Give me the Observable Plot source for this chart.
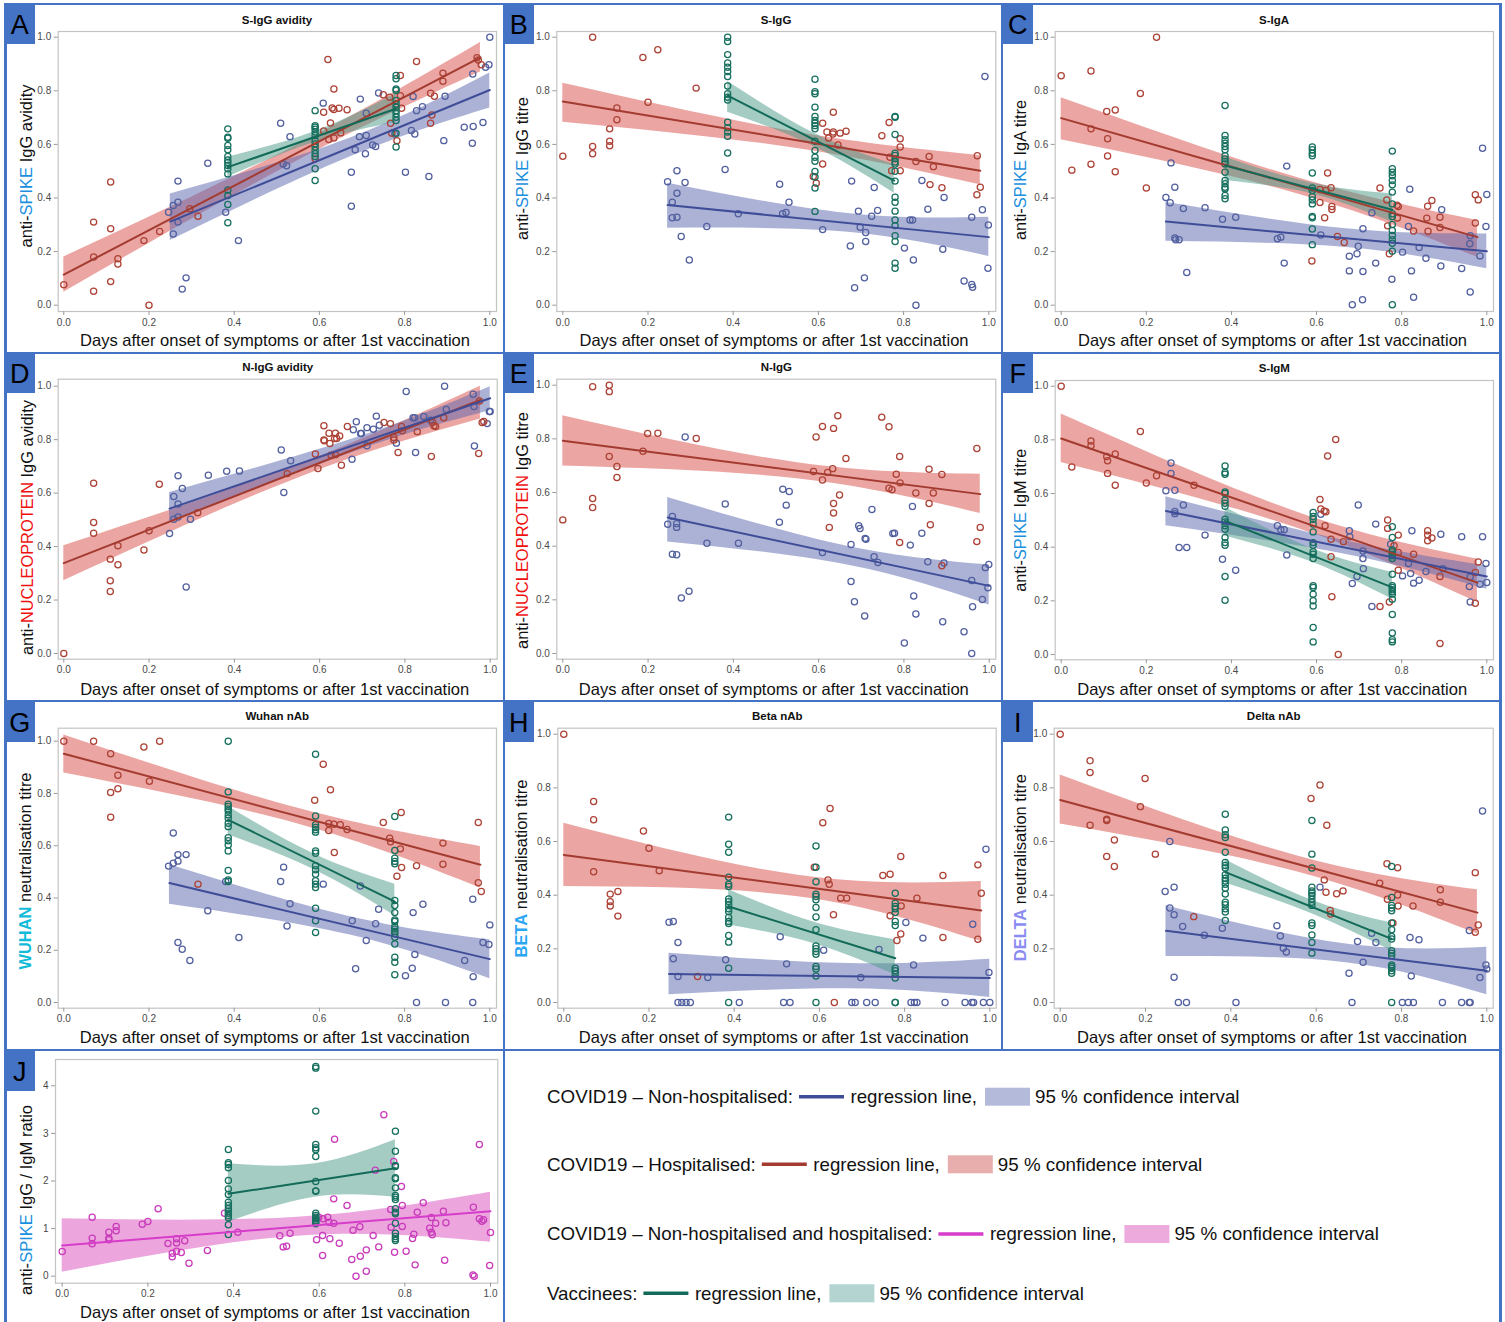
<!DOCTYPE html>
<html><head><meta charset="utf-8">
<script src="https://cdn.jsdelivr.net/npm/d3@7"></script>
<script src="https://cdn.jsdelivr.net/npm/@observablehq/plot@0.6"></script>
<style>
html,body{margin:0;padding:0;background:#fff;}
#root{position:relative;width:1505px;height:1322px;overflow:hidden;background:#fff;font-family:"Liberation Sans",Arial,sans-serif;}
.cell{position:absolute;}
.bar{position:absolute;background:#4472C4;}
.tag{position:absolute;background:#4472C4;color:#000;font:27px "Liberation Sans",Arial,sans-serif;text-align:center;box-sizing:border-box;padding-top:6px;line-height:30px;}
</style></head><body><div id="root"></div>
<script>
// ---------------- DATA ----------------
// groups: N = non-hospitalised, H = hospitalised, V = vaccinees, C = all COVID19
const panelIds = ["A","B","C","D","E","F","G","H","I","J"];
const titles = ["S-IgG avidity","S-IgG","S-IgA","N-IgG avidity","N-IgG","S-IgM","Wuhan nAb","Beta nAb","Delta nAb",""];
const yLabels = [
  [["anti-","k"],["SPIKE","spike"],[" IgG avidity","k"]],
  [["anti-","k"],["SPIKE","spike"],[" IgG titre","k"]],
  [["anti-","k"],["SPIKE","spike"],[" IgA titre","k"]],
  [["anti-","k"],["NUCLEOPROTEIN","np"],[" IgG avidity","k"]],
  [["anti-","k"],["NUCLEOPROTEIN","np"],[" IgG titre","k"]],
  [["anti-","k"],["SPIKE","spike"],[" IgM titre","k"]],
  [["WUHAN","wuhan"],[" neutralisation titre","k"]],
  [["BETA","beta"],[" neutralisation titre","k"]],
  [["DELTA","delta"],[" neutralisation titre","k"]],
  [["anti-","k"],["SPIKE","spike"],[" IgG / IgM ratio","k"]]
];
const xLabel = "Days after onset of symptoms or after 1st vaccination";
const xTicks = [0,0.2,0.4,0.6,0.8,1.0];
const yTicks01 = [0,0.2,0.4,0.6,0.8,1.0];
const yTicksJ = [0,1,2,3,4];

// ---- A: S-IgG avidity
const A_H = [[0,0.076],[0.07,0.18],[0.07,0.31],[0.07,0.052],[0.11,0.46],[0.11,0.285],[0.11,0.088],[0.127,0.173],[0.127,0.154],[0.188,0.241],[0.2,0],[0.225,0.275],[0.296,0.36],[0.315,0.332],[0.59,0.546],[0.61,0.72],[0.61,0.65],[0.62,0.917],[0.626,0.68],[0.63,0.736],[0.634,0.807],[0.634,0.73],[0.634,0.624],[0.622,0.618],[0.646,0.735],[0.65,0.643],[0.665,0.729],[0.75,0.785],[0.765,0.776],[0.767,0.679],[0.77,0.642],[0.782,0.614],[0.79,0.857],[0.79,0.782],[0.793,0.735],[0.828,0.909],[0.861,0.791],[0.864,0.71],[0.861,0.679],[0.87,0.78],[0.89,0.866],[0.89,0.836],[0.97,0.923],[0.973,0.915],[0.98,0.897]];
const A_N = [[0.246,0.347],[0.257,0.372],[0.268,0.384],[0.268,0.463],[0.268,0.31],[0.257,0.266],[0.278,0.06],[0.287,0.102],[0.338,0.53],[0.38,0.347],[0.41,0.241],[0.509,0.679],[0.515,0.527],[0.523,0.52],[0.531,0.629],[0.609,0.754],[0.675,0.369],[0.675,0.496],[0.684,0.58],[0.694,0.629],[0.696,0.769],[0.708,0.565],[0.71,0.633],[0.71,0.716],[0.725,0.598],[0.732,0.592],[0.739,0.792],[0.777,0.639],[0.802,0.496],[0.816,0.652],[0.82,0.779],[0.824,0.639],[0.828,0.726],[0.842,0.741],[0.857,0.48],[0.892,0.614],[0.895,0.78],[0.94,0.664],[0.961,0.667],[0.959,0.604],[0.96,0.863],[0.984,0.682],[0.99,0.888],[0.998,0.897],[1,1]];
const A_V = [[0.385,[0.658,0.627,0.623,0.596,0.58,0.555,0.542,0.532,0.521,0.509,0.49,0.43,0.409,0.376,0.308]],[0.59,[0.726,0.67,0.664,0.657,0.646,0.633,0.614,0.602,0.59,0.577,0.565,0.555,0.509,0.465]],[0.78,[0.857,0.845,0.807,0.801,0.764,0.751,0.739,0.726,0.714,0.701,0.689,0.642,0.59]]];
const A_fit = [["H",0,0.114,0.978,0.925],["N",0.25,0.312,1,0.803],["V",0.385,0.515,0.78,0.733]];
const A_ci = [["H",[[0,0.048,0.18],[0.55,0.54,0.6],[0.978,0.87,0.98]]],["N",[[0.25,0.241,0.415],[0.67,0.552,0.622],[1,0.736,0.866]]],["V",[[0.385,0.478,0.552],[0.59,0.608,0.648],[0.78,0.683,0.789]]]];

// ---- B: S-IgG
const B_H = [[0,0.556],[0.07,1],[0.07,0.592],[0.07,0.565],[0.11,0.658],[0.11,0.612],[0.11,0.595],[0.127,0.736],[0.127,0.692],[0.188,0.924],[0.2,0.757],[0.223,0.953],[0.313,0.81],[0.588,0.48],[0.595,0.455],[0.61,0.679],[0.61,0.527],[0.62,0.646],[0.624,0.624],[0.634,0.639],[0.635,0.72],[0.635,0.646],[0.646,0.598],[0.651,0.642],[0.665,0.649],[0.749,0.632],[0.766,0.682],[0.768,0.552],[0.772,0.502],[0.792,0.621],[0.792,0.59],[0.792,0.502],[0.829,0.536],[0.86,0.555],[0.862,0.45],[0.87,0.517],[0.89,0.438],[0.972,0.412],[0.973,0.558],[0.98,0.44]];
const B_N = [[0.246,0.461],[0.257,0.384],[0.257,0.326],[0.268,0.502],[0.268,0.418],[0.268,0.328],[0.278,0.256],[0.287,0.458],[0.297,0.169],[0.338,0.294],[0.381,0.506],[0.412,0.341],[0.509,0.451],[0.516,0.341],[0.524,0.346],[0.531,0.384],[0.61,0.282],[0.675,0.221],[0.678,0.463],[0.685,0.065],[0.694,0.351],[0.698,0.291],[0.708,0.102],[0.711,0.271],[0.711,0.238],[0.725,0.332],[0.731,0.439],[0.739,0.353],[0.802,0.213],[0.815,0.318],[0.821,0.318],[0.823,0.169],[0.829,0],[0.843,0.465],[0.857,0.358],[0.892,0.209],[0.895,0.402],[0.942,0.09],[0.96,0.328],[0.96,0.077],[0.962,0.067],[0.985,0.356],[0.991,0.853],[0.999,0.299],[0.998,0.138]];
const B_V = [[0.387,[1,0.984,0.935,0.904,0.888,0.872,0.853,0.818,0.789,0.776,0.766,0.683,0.662,0.646,0.63,0.568]],[0.592,[0.843,0.797,0.789,0.739,0.704,0.689,0.679,0.67,0.658,0.612,0.577,0.552,0.537,0.499,0.478,0.437,0.35]],[0.78,[0.704,0.701,0.637,0.567,0.559,0.546,0.534,0.527,0.5,0.463,0.403,0.384,0.351,0.318,0.297,0.259,0.238,0.157,0.138]]];
const B_fit = [["H",0,0.76,0.98,0.502],["N",0.246,0.374,1,0.254],["V",0.387,0.782,0.778,0.465]];
const B_ci = [["H",[[0,0.683,0.828],[0.55,0.585,0.645],[0.98,0.449,0.558]]],["N",[[0.246,0.287,0.455],[0.67,0.272,0.342],[1,0.182,0.328]]],["V",[[0.387,0.72,0.835],[0.59,0.592,0.642],[0.778,0.418,0.525]]]];

// ---- C: S-IgA
const C_H = [[0,0.856],[0.025,0.504],[0.07,0.874],[0.07,0.658],[0.07,0.526],[0.107,0.723],[0.109,0.621],[0.109,0.557],[0.127,0.728],[0.127,0.498],[0.186,0.79],[0.2,0.437],[0.224,1],[0.589,0.165],[0.608,0.432],[0.608,0.383],[0.619,0.326],[0.626,0.493],[0.622,0.428],[0.634,0.438],[0.636,0.368],[0.636,0.357],[0.649,0.256],[0.665,0.234],[0.749,0.437],[0.765,0.393],[0.771,0.192],[0.767,0.296],[0.789,0.373],[0.792,0.368],[0.79,0.325],[0.828,0.277],[0.861,0.369],[0.871,0.391],[0.859,0.325],[0.862,0.276],[0.89,0.328],[0.89,0.29],[0.973,0.412],[0.98,0.393],[0.973,0.307]];
const C_N = [[0.246,0.402],[0.256,0.382],[0.258,0.531],[0.267,0.44],[0.267,0.251],[0.269,0.244],[0.277,0.244],[0.287,0.361],[0.295,0.122],[0.338,0.364],[0.379,0.321],[0.41,0.328],[0.508,0.248],[0.516,0.254],[0.524,0.157],[0.53,0.519],[0.61,0.262],[0.677,0.183],[0.677,0.128],[0.684,0.002],[0.695,0.192],[0.698,0.22],[0.709,0.285],[0.709,0.126],[0.708,0.02],[0.73,0.345],[0.739,0.157],[0.777,0.097],[0.802,0.198],[0.816,0.294],[0.819,0.433],[0.823,0.128],[0.828,0.03],[0.841,0.215],[0.857,0.175],[0.892,0.146],[0.894,0.356],[0.941,0.137],[0.961,0.259],[0.961,0.049],[0.96,0.229],[0.984,0.184],[0.99,0.586],[0.998,0.294],[1,0.413]];
const C_V = [[0.385,[0.745,0.633,0.617,0.604,0.592,0.58,0.558,0.546,0.536,0.527,0.496,0.465,0.453,0.44,0.434,0.409,0.397]],[0.59,[0.59,0.58,0.567,0.558,0.493,0.437,0.428,0.405,0.393,0.378,0.331,0.326,0.284,0.226]],[0.778,[0.575,0.509,0.496,0.483,0.465,0.449,0.422,0.378,0.341,0.331,0.301,0.279,0.26,0.244,0.231,0.201,0.002]]];
const C_fit = [["H",0,0.698,0.978,0.254],["N",0.246,0.312,1,0.201],["V",0.385,0.521,0.778,0.356]];
const C_ci = [["H",[[0,0.617,0.774],[0.55,0.418,0.478],[0.978,0.179,0.316]]],["N",[[0.246,0.239,0.384],[0.67,0.215,0.285],[1,0.136,0.266]]],["V",[[0.385,0.465,0.552],[0.59,0.415,0.455],[0.778,0.31,0.415]]]];

// ---- D: N-IgG avidity
const D_H = [[0,0],[0.07,0.637],[0.07,0.49],[0.07,0.45],[0.109,0.353],[0.109,0.272],[0.109,0.232],[0.127,0.403],[0.127,0.332],[0.188,0.387],[0.2,0.459],[0.224,0.633],[0.314,0.527],[0.524,0.673],[0.59,0.746],[0.596,0.692],[0.61,0.852],[0.61,0.799],[0.611,0.796],[0.622,0.824],[0.624,0.786],[0.627,0.742],[0.635,0.804],[0.637,0.824],[0.64,0.804],[0.637,0.744],[0.647,0.814],[0.651,0.704],[0.665,0.849],[0.751,0.864],[0.766,0.86],[0.774,0.808],[0.774,0.799],[0.784,0.752],[0.792,0.849],[0.794,0.833],[0.829,0.83],[0.862,0.737],[0.865,0.864],[0.868,0.852],[0.872,0.849],[0.891,0.882],[0.973,0.748],[0.975,0.945],[0.981,0.864],[0.985,0.868]];
const D_N = [[0.248,0.449],[0.258,0.587],[0.258,0.502],[0.268,0.665],[0.268,0.559],[0.268,0.511],[0.278,0.617],[0.287,0.249],[0.297,0.502],[0.339,0.667],[0.382,0.682],[0.412,0.683],[0.51,0.761],[0.516,0.602],[0.532,0.721],[0.676,0.727],[0.679,0.837],[0.686,0.867],[0.696,0.823],[0.698,0.823],[0.711,0.845],[0.711,0.777],[0.726,0.839],[0.733,0.888],[0.74,0.854],[0.78,0.787],[0.803,0.98],[0.819,0.882],[0.823,0.882],[0.825,0.752],[0.844,0.887],[0.86,0.873],[0.893,1],[0.897,0.913],[0.96,0.97],[0.962,0.924],[0.963,0.776],[0.993,0.86],[0.998,0.905],[1,0.905]];
const D_fit = [["H",0,0.338,0.977,0.949],["N",0.248,0.542,1,0.955]];
const D_ci = [["H",[[0,0.272,0.403],[0.55,0.657,0.707],[0.977,0.877,1.0]]],["N",[[0.248,0.49,0.602],[0.7,0.765,0.815],[1,0.908,0.998]]]];

// ---- E: N-IgG
const E_H = [[0,0.498],[0.07,0.994],[0.07,0.578],[0.07,0.544],[0.109,1],[0.109,0.976],[0.109,0.734],[0.127,0.697],[0.127,0.656],[0.188,0.754],[0.199,0.82],[0.223,0.821],[0.313,0.801],[0.588,0.678],[0.594,0.807],[0.609,0.846],[0.609,0.647],[0.621,0.675],[0.625,0.47],[0.633,0.689],[0.635,0.839],[0.635,0.559],[0.635,0.524],[0.645,0.886],[0.649,0.591],[0.664,0.727],[0.748,0.881],[0.765,0.845],[0.765,0.616],[0.772,0.61],[0.782,0.668],[0.79,0.734],[0.791,0.636],[0.79,0.414],[0.828,0.598],[0.859,0.687],[0.859,0.559],[0.862,0.48],[0.869,0.598],[0.889,0.667],[0.889,0.327],[0.971,0.764],[0.971,0.417],[0.979,0.47]];
const E_N = [[0.246,0.482],[0.257,0.511],[0.257,0.37],[0.267,0.484],[0.267,0.47],[0.267,0.368],[0.278,0.207],[0.287,0.807],[0.296,0.232],[0.338,0.411],[0.381,0.557],[0.412,0.411],[0.508,0.489],[0.516,0.612],[0.524,0.553],[0.531,0.604],[0.609,0.376],[0.676,0.406],[0.676,0.268],[0.684,0.193],[0.694,0.476],[0.697,0.466],[0.709,0.429],[0.711,0.426],[0.708,0.14],[0.725,0.537],[0.73,0.361],[0.739,0.339],[0.774,0.447],[0.778,0.448],[0.801,0.039],[0.815,0.404],[0.82,0.548],[0.823,0.214],[0.828,0.147],[0.842,0.448],[0.856,0.342],[0.891,0.118],[0.894,0.337],[0.941,0.081],[0.959,0.272],[0.961,0.174],[0.959,0],[0.984,0.201],[0.991,0.32],[0.997,0.245],[0.999,0.332]];
const E_fit = [["H",0,0.793,0.979,0.594],["N",0.246,0.507,1,0.252]];
const E_ci = [["H",[[0,0.699,0.886],[0.55,0.651,0.711],[0.979,0.522,0.668]]],["N",[[0.246,0.416,0.581],[0.67,0.329,0.399],[1,0.181,0.33]]]];

// ---- F: S-IgM
const F_H = [[0,1],[0.025,0.699],[0.07,0.796],[0.07,0.778],[0.107,0.738],[0.109,0.722],[0.109,0.675],[0.127,0.747],[0.127,0.631],[0.186,0.831],[0.2,0.639],[0.224,0.666],[0.312,0.631],[0.608,0.578],[0.61,0.542],[0.618,0.535],[0.622,0.532],[0.626,0.74],[0.62,0.48],[0.634,0.43],[0.634,0.364],[0.636,0.215],[0.645,0.801],[0.651,0],[0.663,0.42],[0.749,0.179],[0.767,0.501],[0.767,0.47],[0.771,0.196],[0.782,0.405],[0.792,0.445],[0.792,0.38],[0.792,0.314],[0.828,0.374],[0.861,0.461],[0.861,0.445],[0.861,0.424],[0.871,0.434],[0.89,0.291],[0.89,0.041],[0.973,0.306],[0.98,0.345],[0.973,0.191]];
const F_N = [[0.246,0.61],[0.258,0.714],[0.258,0.675],[0.267,0.612],[0.267,0.533],[0.267,0.525],[0.277,0.399],[0.287,0.557],[0.295,0.399],[0.338,0.445],[0.379,0.355],[0.41,0.314],[0.508,0.48],[0.516,0.465],[0.524,0.465],[0.53,0.371],[0.61,0.523],[0.677,0.461],[0.678,0.439],[0.684,0.265],[0.695,0.291],[0.698,0.557],[0.709,0.386],[0.709,0.358],[0.71,0.32],[0.73,0.179],[0.739,0.486],[0.774,0.411],[0.802,0.293],[0.816,0.339],[0.821,0.302],[0.824,0.461],[0.828,0.266],[0.841,0.277],[0.857,0.309],[0.892,0.448],[0.897,0.32],[0.941,0.439],[0.961,0.289],[0.959,0.253],[0.961,0.196],[0.984,0.262],[0.99,0.439],[0.998,0.339],[1,0.268]];
const F_V = [[0.385,[0.703,0.678,0.672,0.606,0.6,0.575,0.564,0.552,0.504,0.494,0.48,0.467,0.436,0.417,0.407,0.291,0.202]],[0.592,[0.529,0.514,0.504,0.486,0.457,0.417,0.407,0.383,0.374,0.358,0.256,0.25,0.225,0.2,0.181,0.101,0.047]],[0.778,[0.476,0.436,0.39,0.383,0.374,0.368,0.358,0.299,0.256,0.25,0.241,0.234,0.225,0.206,0.149,0.08,0.055,0.047]]];
const F_fit = [["H",0,0.805,0.978,0.268],["N",0.246,0.535,1,0.291],["V",0.385,0.498,0.778,0.25]];
const F_ci = [["H",[[0,0.716,0.896],[0.55,0.473,0.533],[0.978,0.194,0.355]]],["N",[[0.246,0.48,0.588],[0.67,0.373,0.423],[1,0.243,0.33]]],["V",[[0.385,0.442,0.548],[0.59,0.344,0.394],[0.778,0.206,0.306]]]];

// ---- G: Wuhan nAb
const G_H = [[0,1],[0.07,1],[0.11,0.952],[0.11,0.804],[0.11,0.709],[0.127,0.87],[0.127,0.818],[0.188,0.978],[0.201,0.847],[0.225,1],[0.315,0.453],[0.589,0.774],[0.609,0.912],[0.626,0.814],[0.622,0.685],[0.622,0.658],[0.634,0.682],[0.635,0.574],[0.649,0.68],[0.665,0.662],[0.75,0.689],[0.765,0.629],[0.767,0.615],[0.782,0.483],[0.79,0.588],[0.792,0.727],[0.793,0.517],[0.828,0.523],[0.89,0.61],[0.89,0.529],[0.973,0.689],[0.973,0.458],[0.98,0.425]];
const G_N = [[0.246,0.522],[0.257,0.649],[0.257,0.533],[0.268,0.566],[0.268,0.541],[0.268,0.23],[0.278,0.204],[0.287,0.566],[0.296,0.161],[0.338,0.351],[0.38,0.463],[0.411,0.249],[0.509,0.463],[0.516,0.518],[0.524,0.293],[0.531,0.378],[0.609,0.453],[0.677,0.313],[0.685,0.129],[0.696,0.446],[0.71,0.237],[0.732,0.301],[0.739,0.357],[0.802,0.102],[0.818,0.131],[0.82,0.344],[0.824,0.184],[0.828,0],[0.843,0.376],[0.896,0],[0.941,0.161],[0.96,0.395],[0.961,0.099],[0.96,0],[0.984,0.23],[0.998,0.222],[1,0.297]];
const G_V = [[0.386,[1,0.806,0.759,0.75,0.741,0.733,0.718,0.705,0.686,0.673,0.631,0.619,0.603,0.58,0.505,0.469,0.463]],[0.591,[0.95,0.714,0.68,0.67,0.661,0.652,0.58,0.571,0.523,0.508,0.491,0.466,0.453,0.44,0.361,0.313,0.268]],[0.777,[0.712,0.582,0.552,0.54,0.531,0.39,0.371,0.344,0.316,0.31,0.291,0.281,0.272,0.263,0.25,0.224,0.173,0.154,0.106]]];
const G_fit = [["H",0,0.952,0.978,0.527],["N",0.248,0.457,1,0.166],["V",0.386,0.699,0.777,0.386]];
const G_ci = [["H",[[0,0.878,1.024],[0.55,0.683,0.743],[0.978,0.438,0.597]]],["N",[[0.248,0.376,0.527],[0.67,0.259,0.329],[1,0.091,0.24]]],["V",[[0.386,0.642,0.75],[0.59,0.506,0.566],[0.777,0.332,0.453]]]];

// ---- H: Beta nAb
const H_H = [[0,1],[0.07,0.749],[0.07,0.681],[0.07,0.487],[0.109,0.404],[0.109,0.376],[0.109,0.36],[0.127,0.414],[0.127,0.322],[0.187,0.639],[0.2,0.575],[0.224,0.491],[0.314,0.097],[0.588,0.504],[0.608,0.67],[0.62,0.457],[0.623,0.441],[0.625,0.723],[0.633,0.327],[0.635,0],[0.65,0.389],[0.664,0.389],[0.749,0.473],[0.766,0.478],[0.766,0.323],[0.782,0.231],[0.791,0.544],[0.791,0.255],[0.792,0.36],[0.829,0.389],[0.89,0.473],[0.89,0.242],[0.972,0.513],[0.972,0.236],[0.98,0.407]];
const H_N = [[0.247,0.299],[0.257,0.302],[0.257,0.163],[0.268,0.224],[0.268,0.097],[0.268,0],[0.277,0],[0.287,0],[0.297,0],[0.338,0.093],[0.38,0.159],[0.412,0],[0.508,0.245],[0.516,0],[0.531,0],[0.523,0.144],[0.61,0.195],[0.676,0],[0.684,0],[0.697,0.093],[0.711,0],[0.731,0],[0.74,0.198],[0.803,0.298],[0.815,0],[0.821,0.14],[0.823,0],[0.829,0],[0.843,0.24],[0.895,0],[0.942,0],[0.958,0],[0.962,0],[0.96,0.292],[0.985,0],[0.991,0.571],[0.998,0.112],[1,0]];
const H_V = [[0.387,[0.691,0.59,0.56,0.467,0.441,0.432,0.386,0.376,0.364,0.349,0.339,0.317,0.302,0.294,0.25,0.225,0.128,0]],[0.592,[0.583,0.504,0.45,0.404,0.395,0.383,0.354,0.319,0.271,0.211,0.2,0.19,0.18,0.134,0.125,0.099,0]],[0.778,[0.407,0.37,0.358,0.349,0.335,0.302,0.287,0.128,0.118,0.106,0.091,0,0]]];
const H_fit = [["H",0,0.55,0.98,0.343],["N",0.247,0.106,1,0.091],["V",0.387,0.358,0.778,0.165]];
const H_ci = [["H",[[0,0.432,0.668],[0.55,0.394,0.474],[0.98,0.227,0.451]]],["N",[[0.247,0.029,0.184],[0.67,0.051,0.145],[1,0.019,0.161]]],["V",[[0.387,0.289,0.42],[0.59,0.218,0.298],[0.778,0.103,0.234]]]];

// ---- I: Delta nAb
const I_H = [[0,1],[0.07,0.901],[0.07,0.857],[0.07,0.661],[0.109,0.683],[0.109,0.678],[0.109,0.544],[0.127,0.606],[0.127,0.507],[0.188,0.73],[0.199,0.835],[0.223,0.553],[0.313,0.32],[0.588,0.76],[0.609,0.811],[0.619,0.457],[0.623,0.411],[0.625,0.661],[0.633,0.343],[0.634,0.33],[0.648,0.405],[0.663,0.416],[0.749,0.445],[0.766,0.517],[0.767,0.385],[0.78,0.296],[0.791,0.502],[0.791,0.401],[0.792,0.36],[0.827,0.36],[0.891,0.42],[0.891,0.374],[0.973,0.484],[0.973,0.262],[0.98,0.289]];
const I_N = [[0.246,0.414],[0.257,0.6],[0.257,0.352],[0.267,0.43],[0.267,0.327],[0.267,0.094],[0.277,0],[0.287,0.283],[0.296,0],[0.338,0.251],[0.38,0.277],[0.412,0],[0.508,0.286],[0.516,0.248],[0.523,0.202],[0.53,0.188],[0.609,0.43],[0.677,0.109],[0.684,0],[0.697,0.227],[0.71,0.15],[0.73,0.258],[0.74,0.224],[0.802,0],[0.816,0],[0.82,0.242],[0.823,0.099],[0.828,0],[0.841,0.234],[0.896,0],[0.941,0],[0.959,0],[0.961,0],[0.959,0.268],[0.984,0.093],[0.99,0.714],[0.998,0.14],[1,0.125]];
const I_V = [[0.387,[0.702,0.643,0.625,0.615,0.56,0.522,0.511,0.501,0.476,0.463,0.453,0.441,0.426,0.404,0.374,0.364,0.349,0.337,0.306]],[0.59,[0.678,0.553,0.501,0.43,0.416,0.407,0.399,0.386,0.374,0.362,0.296,0.287,0.252,0.224,0.184]],[0.777,[0.507,0.391,0.362,0.352,0.342,0.296,0.271,0.246,0.237,0.193,0.184,0.174,0.14,0.134,0.128,0.118,0.109,0]]];
const I_fit = [["H",0,0.755,0.978,0.335],["N",0.248,0.267,1,0.118],["V",0.387,0.486,0.777,0.237]];
const I_ci = [["H",[[0,0.665,0.848],[0.55,0.489,0.549],[0.978,0.255,0.42]]],["N",[[0.248,0.171,0.361],[0.67,0.148,0.218],[1,0.029,0.206]]],["V",[[0.387,0.445,0.532],[0.59,0.331,0.381],[0.777,0.193,0.296]]]];

// ---- J: S-IgG / IgM ratio
const J_C = [[0,0.518],[0.07,1.24],[0.07,0.8],[0.07,0.68],[0.109,0.925],[0.109,0.8],[0.109,0.764],[0.126,1.044],[0.126,0.953],[0.187,1.093],[0.2,1.149],[0.224,1.415],[0.247,0.687],[0.257,0.483],[0.257,0.406],[0.267,0.785],[0.267,0.7],[0.267,0.525],[0.278,0.497],[0.286,0.743],[0.296,0.273],[0.339,0.539],[0.379,1.324],[0.41,0.925],[0.508,0.848],[0.516,0.616],[0.524,0.63],[0.532,0.904],[0.594,0.764],[0.599,1.24],[0.608,0.434],[0.608,0.855],[0.609,1.205],[0.62,1.24],[0.625,0.785],[0.623,1.135],[0.634,1.625],[0.636,2.879],[0.634,1.114],[0.647,0.694],[0.665,1.485],[0.676,0.35],[0.679,0.967],[0.686,0],[0.695,1.037],[0.696,0.42],[0.71,0.105],[0.71,0.553],[0.726,0.855],[0.731,2.228],[0.739,0.616],[0.751,3.39],[0.767,1.401],[0.768,1.03],[0.774,2.41],[0.776,0.504],[0.792,1.884],[0.794,1.485],[0.794,1.044],[0.803,0.525],[0.818,0.792],[0.821,0.883],[0.824,0.238],[0.829,1.345],[0.843,1.541],[0.858,1.009],[0.862,1.233],[0.862,0.925],[0.864,0.869],[0.872,1.114],[0.89,1.366],[0.893,0.336],[0.896,1.121],[0.96,1.45],[0.959,0.028],[0.962,0],[0.974,2.767],[0.974,1.205],[0.98,1.156],[0.984,1.184],[1,0.918],[0.998,0.224]];
const J_V = [[0.388,[2.662,2.382,2.347,2.277,2.011,1.835,1.716,1.555,1.485,1.415,1.366,1.324,1.275,1.226,1.079,0.876]],[0.592,[4.406,4.371,3.468,2.767,2.697,2.655,2.515,1.99,1.793,1.786,1.324,1.275,1.24,1.205,1.17,1.135,1.1]],[0.778,[3.047,2.627,2.326,2.305,2.067,2.046,1.856,1.695,1.66,1.611,1.415,1.345,1.31,1.114,0.904,0.834,0.785,0.75]]];
const J_fit = [["C",0,0.644,1,1.366],["V",0.388,1.73,0.778,2.27]];
const J_ci = [["C",[[0,0.084,1.205],[0.55,0.84,1.24],[1,0.715,1.765]]],["V",[[0.388,1.135,2.36],[0.59,1.66,2.36],[0.778,1.66,2.865]]]];

// legend texts
const legendNames = ["COVID19 \u2013 Non-hospitalised:","COVID19 \u2013 Hospitalised:","COVID19 \u2013 Non-hospitalised and hospitalised:","Vaccinees:"];
const legendGroups = ["N","H","C","V"];

// ---------------- STYLE / LAYOUT ----------------
const dotColor = {N:"#52609f",H:"#ad4236",V:"#17705f",C:"#c93bbb"};
const lineColor = {N:"#3f4d98",H:"#a33b30",V:"#126a58",C:"#d63dca"};
const bandColor = {N:"#5a66ad",H:"#d84b45",V:"#4a9a88",C:"#da4dbb"};
const swatchColor = {N:"#b4bbda",H:"#e8aead",V:"#b3d4d0",C:"#edaadc"};
const labelColor = {k:"#111",spike:"#1b8fe0",np:"#f01010",wuhan:"#12bcd8",beta:"#2ba6f4",delta:"#8a8cf2"};
const boldKey = {wuhan:true,beta:true,delta:true};

const data = {
  A:{pts:[["H",A_H],["N",A_N]],stacks:A_V,fit:A_fit,ci:A_ci},
  B:{pts:[["H",B_H],["N",B_N]],stacks:B_V,fit:B_fit,ci:B_ci},
  C:{pts:[["H",C_H],["N",C_N]],stacks:C_V,fit:C_fit,ci:C_ci},
  D:{pts:[["H",D_H],["N",D_N]],stacks:[],fit:D_fit,ci:D_ci},
  E:{pts:[["H",E_H],["N",E_N]],stacks:[],fit:E_fit,ci:E_ci},
  F:{pts:[["H",F_H],["N",F_N]],stacks:F_V,fit:F_fit,ci:F_ci},
  G:{pts:[["H",G_H],["N",G_N]],stacks:G_V,fit:G_fit,ci:G_ci},
  H:{pts:[["H",H_H],["N",H_N]],stacks:H_V,fit:H_fit,ci:H_ci},
  I:{pts:[["H",I_H],["N",I_N]],stacks:I_V,fit:I_fit,ci:I_ci},
  J:{pts:[["C",J_C]],stacks:J_V,fit:J_fit,ci:J_ci}
};

const cols = [[5,503],[504,1002],[1003,1500]];
const rows = [[4,352],[353,701],[702,1050],[1051,1322]];
const geo = {
  A:{c:0,r:0,f:[57.7,496,31,311],x0:63.3,x1:489.3,yb:304.7,yt:36.7,tv:1,title:[277,20],xl:[275,340,390],yl:[26.5,166,163]},
  B:{c:1,r:0,f:[556.3,995.3,31,311],x0:562.3,x1:988.3,yb:304.7,yt:36.7,tv:1,title:[776,20],xl:[774,340,389],yl:[522,168.5,143]},
  C:{c:2,r:0,f:[1054.7,1493,31,311],x0:1060.7,x1:1486.3,yb:304.7,yt:36.7,tv:1,title:[1274,20],xl:[1272.5,340,389],yl:[1020.3,170,140]},
  D:{c:0,r:1,f:[57.7,496.7,378.7,658.7],x0:63.3,x1:489.7,yb:653,yt:385.7,tv:1,title:[277.7,367],xl:[274.7,689.3,389],yl:[27,527.5,255]},
  E:{c:1,r:1,f:[556.3,995.3,378.7,658.7],x0:562.3,x1:988.7,yb:653,yt:384.7,tv:1,title:[776.3,367],xl:[773.8,689.3,390],yl:[522,530.5,237]},
  F:{c:2,r:1,f:[1054.7,1493,380,659.3],x0:1060.7,x1:1486.3,yb:654,yt:385.7,tv:1,title:[1274.3,368],xl:[1272.2,689.3,390],yl:[1020.3,520.3,143]},
  G:{c:0,r:2,f:[57.7,496,727.7,1007.7],x0:63.3,x1:489.3,yb:1002,yt:740.7,tv:1,title:[277.3,716],xl:[274.7,1037.5,390],yl:[25,871,197]},
  H:{c:1,r:2,f:[557.3,995.7,727.7,1007.7],x0:563.3,x1:989.3,yb:1002,yt:733.7,tv:1,title:[777.3,716],xl:[773.8,1037.5,390],yl:[521.3,868.5,178]},
  I:{c:2,r:2,f:[1053.7,1492.7,727.7,1007.7],x0:1059.7,x1:1486.3,yb:1002,yt:733.7,tv:1,title:[1273.7,716],xl:[1272,1037.5,390],yl:[1020.3,867.7,187]},
  J:{c:0,r:3,f:[55,497.3,1059,1282.7],x0:61.7,x1:490,yb:1275.7,yt:1085.3,tv:4,title:null,xl:[275,1311.7,390],yl:[26.3,1200,190]}
};
const FONT = '"Liberation Sans", Arial, sans-serif';
const root = document.getElementById("root");

panelIds.forEach((id, k) => {
  const g = geo[id], d = data[id];
  const bl = cols[g.c][0], br = cols[g.c][1], bt = rows[g.r][0], bb = rows[g.r][1];
  const W = br - bl, H = bb - bt;
  const [fl, fr, ft, fb] = g.f;
  const xu = g.x1 - g.x0, yu = (g.yb - g.yt) / g.tv;
  const xdom = [(fl - g.x0) / xu, (fr - g.x0) / xu];
  const ydom = [(g.yb - fb) / yu, (g.yb - ft) / yu];

  const pts = [];
  d.pts.forEach(([grp, arr]) => arr.forEach(([x, y]) => pts.push({g: grp, x, y})));
  d.stacks.forEach(([x, ys]) => ys.forEach(y => pts.push({g: "V", x, y})));
  const lines = [];
  d.fit.forEach(([grp, xa, ya, xb, yb]) => { lines.push({g: grp, x: xa, y: ya}); lines.push({g: grp, x: xb, y: yb}); });
  const bands = [];
  d.ci.forEach(([grp, arr]) => arr.forEach(([x, lo, hi]) => bands.push({g: grp, x, lo, hi})));
  // draw order: nonhosp, hosp, vacc
  const order = {N: 0, C: 0, H: 1, V: 2};
  pts.sort((a, b) => order[a.g] - order[b.g]);

  const yt = g.tv === 4 ? yTicksJ : yTicks01;
  const fmtY = g.tv === 4 ? (v => d3.format("d")(v)) : (v => v.toFixed(1));

  const svg = Plot.plot({
    width: W, height: H,
    marginLeft: fl - bl, marginRight: br - fr, marginTop: ft - bt, marginBottom: bb - fb,
    x: {domain: xdom}, y: {domain: ydom},
    color: {type: "identity"},
    style: {fontFamily: FONT, background: "transparent", overflow: "visible"},
    marks: [
      Plot.frame({stroke: "#c3c3c3", strokeWidth: 1.2}),
      Plot.axisY({ticks: yt, tickFormat: fmtY, tickSize: 4, tickPadding: 3, fontSize: 10, stroke: "#999", fill: "#4a4a4a", label: null}),
      Plot.axisX({ticks: xTicks, tickFormat: v => v.toFixed(1), tickSize: 4, tickPadding: 3, fontSize: 10, stroke: "#999", fill: "#4a4a4a", label: null}),
      Plot.areaY(bands, {x: "x", y1: "lo", y2: "hi", z: "g", fill: r => bandColor[r.g], fillOpacity: 0.5, curve: "natural"}),
      Plot.dot(pts, {x: "x", y: "y", r: 3.1, stroke: r => dotColor[r.g], strokeWidth: 1.25, fill: "none"}),
      Plot.line(lines, {x: "x", y: "y", z: "g", stroke: r => lineColor[r.g], strokeWidth: 2})
    ]
  });
  const cell = document.createElement("div");
  cell.className = "cell";
  cell.style.left = bl + "px"; cell.style.top = bt + "px";
  cell.style.width = W + "px"; cell.style.height = H + "px";
  cell.appendChild(svg);
  root.appendChild(cell);
  const s = d3.select(svg);
  if (g.title) {
    s.append("text").attr("x", g.title[0] - bl).attr("y", g.title[1] - bt).attr("dy", "0.35em")
      .attr("text-anchor", "middle").attr("font-weight", "bold").attr("font-size", 11.5)
      .attr("font-family", FONT).attr("fill", "#111").text(titles[k]);
  }
  s.append("text").attr("x", g.xl[0] - bl).attr("y", g.xl[1] - bt).attr("dy", "0.36em")
    .attr("text-anchor", "middle").attr("font-size", 16.5).attr("font-family", FONT).attr("fill", "#111")
    .attr("textLength", g.xl[2]).attr("lengthAdjust", "spacingAndGlyphs").text(xLabel);
  const yl = s.append("text")
    .attr("transform", `translate(${g.yl[0] - bl},${g.yl[1] - bt}) rotate(-90)`)
    .attr("dy", "0.36em").attr("text-anchor", "middle").attr("font-size", 16.5).attr("font-family", FONT)
    .attr("textLength", g.yl[2]).attr("lengthAdjust", "spacingAndGlyphs").style("white-space", "pre");
  yLabels[k].forEach(([t, c]) => yl.append("tspan").attr("fill", labelColor[c]).attr("font-weight", boldKey[c] ? "bold" : null).text(t));

  const tag = document.createElement("div");
  tag.className = "tag"; tag.textContent = id;
  tag.style.left = bl + "px"; tag.style.top = bt + "px"; tag.style.width = "29.5px"; tag.style.height = "39.5px";
  cell.tagEl = tag;
  root.appendChild(tag);
});

// ---------------- legend ----------------
(function () {
  const L = 505, T = 1051, W = 995, H = 271;
  const ns = "http://www.w3.org/2000/svg";
  const svg = d3.select(root).append("svg").attr("width", W).attr("height", H)
    .style("position", "absolute").style("left", L + "px").style("top", T + "px");
  const rowY = [1096.7, 1164.3, 1234, 1293.3];
  const nameW = [246, 208.8, 385.4, 90.4];
  legendGroups.forEach((grp, i) => {
    const cy = rowY[i] - T;
    let x = 547 - L;
    const txt = (s, w) => {
      svg.append("text").attr("x", x).attr("y", cy).attr("dy", "0.35em").attr("font-size", 18.5)
        .attr("font-family", FONT).attr("fill", "#111").attr("textLength", w).attr("lengthAdjust", "spacingAndGlyphs").text(s);
      x += w;
    };
    txt(legendNames[i], nameW[i]);
    x += 6;
    svg.append("line").attr("x1", x).attr("x2", x + 45).attr("y1", cy).attr("y2", cy)
      .attr("stroke", lineColor[grp]).attr("stroke-width", 3.5);
    x += 45 + 6.5;
    txt("regression line,", 126.5);
    x += 8;
    svg.append("rect").attr("x", x).attr("y", cy - 9).attr("width", 45).attr("height", 18).attr("fill", swatchColor[grp]);
    x += 45 + 5;
    txt("95 % confidence interval", 204.5);
  });
})();

// ---------------- blue frame lines ----------------
const bars = [
  [3.5, 3.2, 1498.5, 2.3],        // top
  [3.5, 351.7, 1498.5, 2.4],      // row 1/2
  [3.5, 699.6, 1498.5, 2.4],      // row 2/3
  [3.5, 1048.5, 1498.5, 2.4],     // row 3/J
  [4.2, 3.2, 2.4, 1320],          // left
  [502.7, 3.2, 2.4, 1320],        // col 1/2 (full height)
  [1000.8, 3.2, 2.4, 1047.5],     // col 2/3
  [1499.3, 3.2, 2.4, 1320]        // right
];
bars.forEach(([x, y, w, h]) => {
  const b = document.createElement("div");
  b.className = "bar";
  b.style.left = x + "px"; b.style.top = y + "px"; b.style.width = w + "px"; b.style.height = h + "px";
  root.appendChild(b);
});
</script></body></html>
